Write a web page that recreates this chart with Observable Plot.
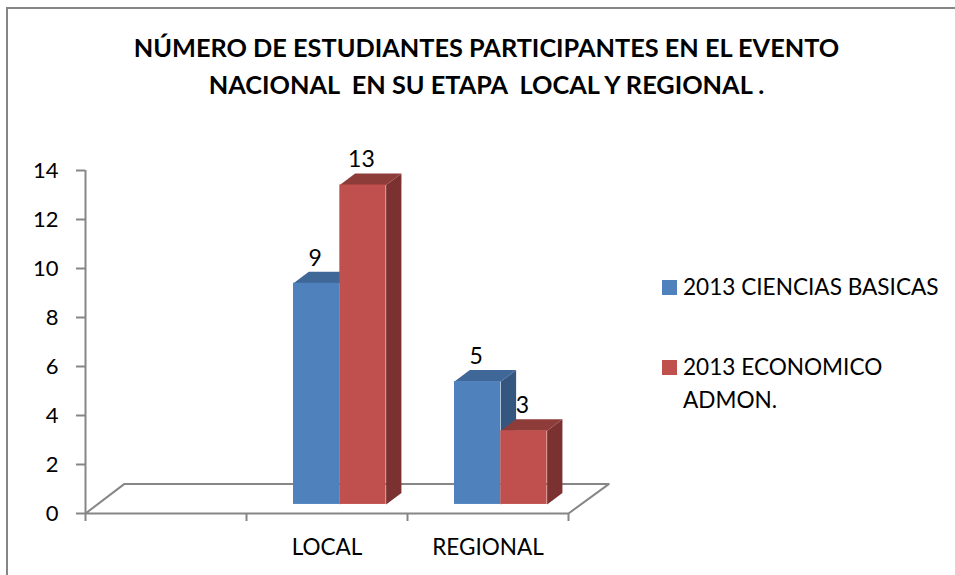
<!DOCTYPE html>
<html><head><meta charset="utf-8">
<style>
html,body{margin:0;padding:0;background:#fff;}
#page{position:relative;width:955px;height:575px;overflow:hidden;font-family:Lato,"Open Sans",sans-serif;color:#000;}
#frame{position:absolute;left:6px;top:7px;width:960px;height:580px;border:2px solid #868686;box-sizing:border-box;}
#chart{position:absolute;left:0;top:0;}
#title{position:absolute;left:0;top:29px;width:973px;text-align:center;font-weight:700;font-size:25.3px;line-height:37px;margin:0;white-space:nowrap;}
.lg{position:absolute;font-size:22.6px;line-height:33px;white-space:nowrap;}
.sw{position:absolute;width:15px;height:15px;}
svg text{font-family:Lato,"Open Sans",sans-serif;}
</style>
<script src="https://cdn.jsdelivr.net/npm/d3@7"></script>
<script src="https://cdn.jsdelivr.net/npm/@observablehq/plot@0.6"></script>
</head><body><div id="page"><div id="frame"></div><div id="chart"></div>
<h1 id="title"></h1><div id="legend"></div></div>
<script>
const titleLines = ["NÚMERO DE ESTUDIANTES PARTICIPANTES EN EL EVENTO","NACIONAL  EN SU ETAPA  LOCAL Y REGIONAL ."];
const categories = ["", "LOCAL", "REGIONAL"];
const seriesNames = ["2013 CIENCIAS BASICAS", "2013 ECONOMICO ADMON."];
const cienciasBasicas = [null, 9, 5];
const economicoAdmon = [null, 13, 3];
const yTicks = [0,2,4,6,8,10,12,14];
const frontColors = ["#4F81BD","#C0504D"];
const topColors = ["#3F6797","#8E3C3A"];
const sideColors = ["#35567F","#7B3130"];
const axisGray = "#868686";

// 3D projection, in scale units
const barW = 0.2876, barStart = 0.292, baseY = 0.37, depthX = 0.095, depthY = 0.47, unitScale = 1.003;
const floorDX = 0.24, floorDY = 1.2;

const bars = [];
[cienciasBasicas, economicoAdmon].forEach((vals, s) => vals.forEach((v, c) => {
  if (v == null) return;
  const x0 = c + barStart + s*barW, x1 = x0 + barW, y0 = baseY, y1 = baseY + v*unitScale;
  bars.push({s, v, x0, x1, y0, y1});
}));
const poly = (pts, fill) => Plot.line(pts, {x:d=>d[0], y:d=>d[1], fill, stroke:"none"});
const faces = [];
for (const b of bars) {
  faces.push(poly([[b.x1,b.y0],[b.x1+depthX,b.y0+depthY],[b.x1+depthX,b.y1+depthY],[b.x1,b.y1],[b.x1,b.y0]], sideColors[b.s]));
  faces.push(poly([[b.x0,b.y1],[b.x0+depthX,b.y1+depthY],[b.x1+depthX,b.y1+depthY],[b.x1,b.y1],[b.x0,b.y1]], topColors[b.s]));
  faces.push(Plot.rect([b],{x1:"x0",x2:"x1",y1:"y0",y2:"y1",fill:frontColors[b.s]}));
}
const floor = [[0,0],[floorDX,floorDY],[3+floorDX+0.01,floorDY],[3,0],[0,0]];
const chart = Plot.plot({
  width:955, height:575,
  marginLeft:85, marginRight:387, marginTop:170, marginBottom:62,
  style:{background:"transparent",overflow:"visible"},
  x:{type:"linear",domain:[0,3]},
  y:{type:"linear",domain:[0,14]},
  marks:[
    Plot.line(floor,{x:d=>d[0],y:d=>d[1],stroke:axisGray,strokeWidth:2}),
    Plot.ruleX([0],{y1:0,y2:14,stroke:axisGray,strokeWidth:2}),
    Plot.axisY({ticks:yTicks,anchor:"left",tickSize:9,tickPadding:18,stroke:axisGray,strokeWidth:2,strokeOpacity:1,label:null,fontSize:22,fill:"#000",marginLeft:85}),
    Plot.axisX({ticks:[0,1,2,3],tickFormat:()=>"",tickSize:8,stroke:axisGray,strokeWidth:2,strokeOpacity:1,label:null,anchor:"bottom"}),
    ...faces,
    Plot.text(bars,{x:d=>(d.x0+d.x1)/2,y:"y1",text:"v",dy:-25,dx:-1.5,fontSize:23,fill:"#000",lineAnchor:"middle"}),
    Plot.text(categories.slice(1),{x:(d,i)=>i+1.5,y:0,text:d=>d,dy:34,fontSize:22.5,fill:"#000",lineAnchor:"middle"})
  ]
});
document.getElementById("chart").append(chart);
document.getElementById("title").innerHTML = titleLines.map(t=>t.replace(/  /g,"&nbsp; ")).join("<br>");
const lg = document.getElementById("legend");
const add = (cls,x,y,text,color)=>{const e=document.createElement("div");e.className=cls;e.style.left=x+"px";e.style.top=y+"px";if(text)e.textContent=text;if(color)e.style.background=color;lg.append(e);};
add("sw",662,280,null,frontColors[0]);
add("lg",683,270,seriesNames[0]);
add("sw",662,360,null,frontColors[1]);
add("lg",683,350,"2013 ECONOMICO");
add("lg",683,383,"ADMON.");
</script></body></html>
